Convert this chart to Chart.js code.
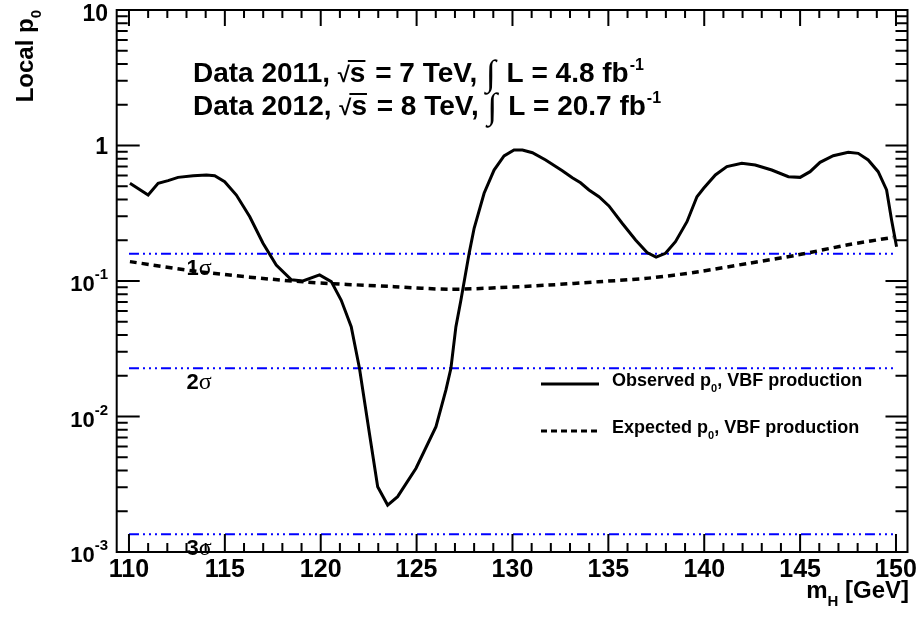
<!DOCTYPE html>
<html><head><meta charset="utf-8">
<script src="https://cdn.jsdelivr.net/npm/chart.js@4.4.0/dist/chart.umd.min.js"></script>
<style>html,body{margin:0;padding:0;background:#fff;}#wrap{width:920px;height:617px;}</style>
</head><body><div id="wrap"><canvas id="c" width="920" height="617"></canvas></div>
<script>
// ---- data ----
const obsMass = [110.05,111.0,111.52,112.04,112.56,113.35,114.04,114.47,114.99,115.6,116.3,116.99,117.68,118.47,119.07,119.94,120.55,121.07,121.59,122.02,122.54,122.97,123.49,124.01,124.97,126.01,126.53,126.79,127.05,127.31,127.74,128.0,128.52,129.04,129.56,130.08,130.52,131.04,131.73,132.6,133.12,133.55,133.99,134.51,135.03,135.72,136.42,137.02,137.49,137.98,138.5,139.1,139.62,139.97,140.58,141.18,141.96,142.66,143.52,144.39,145.0,145.52,146.04,146.73,147.51,148.03,148.55,149.07,149.51,149.77,150.03];
const obsP0 = [0.526,0.431,0.526,0.55,0.582,0.598,0.606,0.598,0.541,0.431,0.298,0.19,0.131,0.102,0.1,0.111,0.099,0.072,0.046,0.0227,0.0075,0.00303,0.00222,0.00256,0.00415,0.0084,0.0157,0.0227,0.046,0.072,0.16,0.245,0.444,0.659,0.837,0.927,0.927,0.885,0.782,0.652,0.578,0.531,0.47,0.419,0.358,0.267,0.201,0.162,0.15,0.16,0.195,0.274,0.419,0.483,0.606,0.698,0.739,0.718,0.659,0.589,0.582,0.641,0.751,0.841,0.891,0.875,0.782,0.641,0.47,0.282,0.179];
const expMass = [110.05,113.69,118.9,123.84,126.7,129.3,131.9,134.5,137.1,139.7,142.3,144.9,147.5,149.85];
const expP0 = [0.139,0.117,0.099,0.0908,0.0869,0.0893,0.0934,0.0988,0.105,0.117,0.135,0.156,0.185,0.21];
const sigmaNames = ['1','2','3'];
const sigmaP0 = [0.1587,0.02275,0.00135];
const sigmaRange = [110,150];
const sigmaLabelMass = 113;
const xTicks = [110,115,120,125,130,135,140,145,150];
const yTickExp = [-3,-2,-1,0,1];
const xRange = [109.36,150.6];
const yRange = [1e-3,10];
const legendNames = ['Observed p','Expected p'];
const legendTail = ', VBF production';
const titleLines = [['Data 2011, ','7 TeV, ','4.8 fb'],['Data 2012, ','8 TeV, ','20.7 fb']];

const SANS = '"Liberation Sans", Arial, sans-serif';
const SERIF = '"Liberation Serif", "Times New Roman", serif';

function drawRich(ctx, x, y, parts, align){
  let w = 0;
  parts.forEach(p=>{ctx.font=p.f; p.w = ctx.measureText(p.t).width + (p.sp||0); w += p.w;});
  let cx = align==='right' ? x - w : x;
  parts.forEach(p=>{
    ctx.font = p.f;
    ctx.fillText(p.t, cx, y + (p.dy||0));
    if (p.over){
      ctx.save(); ctx.lineWidth = 2; ctx.beginPath();
      ctx.moveTo(cx - 2, y - p.over); ctx.lineTo(cx + p.w - (p.sp||0), y - p.over); ctx.stroke(); ctx.restore();
    }
    cx += p.w;
  });
  return w;
}

const decor = {
  id:'decor',
  afterDraw(chart){
    const ctx = chart.ctx, xs = chart.scales.x, ys = chart.scales.y, ca = chart.chartArea;
    ctx.save();
    ctx.strokeStyle = '#000'; ctx.fillStyle = '#000'; ctx.lineWidth = 2;
    // frame
    ctx.strokeRect(ca.left, ca.top, ca.right - ca.left, ca.bottom - ca.top);
    ctx.beginPath();
    for (let m = 110; m <= 150; m++){
      const px = xs.getPixelForValue(m), major = (m % 5 === 0);
      ctx.moveTo(px, ca.bottom); ctx.lineTo(px, ca.bottom - (major ? 18 : 9));
      ctx.moveTo(px, ca.top); ctx.lineTo(px, ca.top + (major ? 16 : 8));
    }
    for (let k = -3; k <= 0; k++){
      for (let j = 1; j <= 9; j++){
        const py = ys.getPixelForValue(j * Math.pow(10, k)), major = (j === 1);
        ctx.moveTo(ca.left, py); ctx.lineTo(ca.left + (major ? 23 : 11), py);
        ctx.moveTo(ca.right, py); ctx.lineTo(ca.right - (major ? 22 : 12), py);
      }
    }
    ctx.stroke();
    // y tick labels
    ctx.textBaseline = 'middle';
    yTickExp.forEach(e=>{
      const py = ys.getPixelForValue(Math.pow(10, e));
      if (e === 0 || e === 1){
        ctx.textAlign = 'right';
        ctx.font = 'bold 23px ' + SANS;
        ctx.fillText(e === 0 ? '1' : '10', 108, e===1 ? 15 : py + 2);
      } else {
        ctx.textAlign = 'left';
        drawRich(ctx, 108, py + 4, [
          {t:'10', f:'bold 22px ' + SANS},
          {t:String(e), f:'bold 15px ' + SANS, dy:-10}
        ], 'right');
      }
    });
    // x axis title
    ctx.textAlign = 'left'; ctx.textBaseline = 'alphabetic';
    drawRich(ctx, 909, 598, [
      {t:'m', f:'bold 24px ' + SANS},
      {t:'H', f:'bold 15px ' + SANS, dy:8},
      {t:' [GeV]', f:'bold 24px ' + SANS}
    ], 'right');
    // y axis title
    ctx.save();
    ctx.translate(33, 10); ctx.rotate(-Math.PI/2);
    drawRich(ctx, 0, 0, [
      {t:'Local p', f:'bold 24px ' + SANS},
      {t:'0', f:'bold 15px ' + SANS, dy:8}
    ], 'right');
    ctx.restore();
    // sigma labels
    sigmaP0.forEach((v,i)=>{
      const px = xs.getPixelForValue(sigmaLabelMass), py = ys.getPixelForValue(v) + 21;
      drawRich(ctx, px, py, [
        {t:sigmaNames[i], f:'bold 22px ' + SANS},
        {t:'σ', f:'24px ' + SERIF}
      ], 'left');
    });
    // title lines
    const tb = [82, 115];
    titleLines.forEach((ln, i)=>{
      const F = 'bold 28px ' + SANS;
      drawRich(ctx, 193, tb[i], [
        {t:ln[0], f:F},
        {t:'\u221A', f:'bold 22px ' + SANS},
        {t:'s', f:F, over:21, sp:2},
        {t:' = ' + ln[1], f:F, sp:1},
        {t:'\u222B', f:'36px ' + SERIF, dy:3, sp:3},
        {t:' L = ' + ln[2], f:F, sp:1},
        {t:'-1', f:'bold 16px ' + SANS, dy:-12}
      ], 'left');
    });
    // legend
    const legY = [384, 431], legTxtY = [386, 433];
    ctx.lineWidth = 3;
    legY.forEach((y,i)=>{
      ctx.save();
      ctx.setLineDash(i === 0 ? [] : [6,4]);
      ctx.beginPath(); ctx.moveTo(541, y); ctx.lineTo(599, y); ctx.stroke();
      ctx.restore();
      drawRich(ctx, 612, legTxtY[i], [
        {t:legendNames[i], f:'bold 18px ' + SANS},
        {t:'0', f:'bold 11px ' + SANS, dy:6},
        {t:legendTail, f:'bold 18px ' + SANS}
      ], 'left');
    });
    ctx.restore();
  }
};

const datasets = [
  {data: obsMass.map((m,i)=>({x:m, y:obsP0[i]})), borderColor:'#000', borderWidth:3, pointRadius:0, tension:0, fill:false},
  {data: expMass.map((m,i)=>({x:m, y:expP0[i]})), borderColor:'#000', borderWidth:3.5, borderDash:[7,5], pointRadius:0, tension:0.3, fill:false}
];
sigmaP0.forEach(v=>{
  datasets.push({data: sigmaRange.map(m=>({x:m, y:v})), borderColor:'#0000ff', borderWidth:2, borderDash:[10,4,2,4,2,4,2,4], pointRadius:0, fill:false});
});

new Chart(document.getElementById('c'), {
  type:'line',
  data:{datasets},
  options:{
    responsive:false, animation:false, devicePixelRatio:1,
    layout:{padding:{left:0, right:11, top:10, bottom:0}},
    plugins:{legend:{display:false}, tooltip:{enabled:false}},
    scales:{
      x:{type:'linear', min:xRange[0], max:xRange[1],
         grid:{display:false, drawTicks:false}, border:{display:false},
         afterBuildTicks: s=>{ s.ticks = xTicks.map(v=>({value:v})); },
         afterFit: s=>{ s.height = 65; },
         ticks:{autoSkip:false, maxRotation:0, padding:3, color:'#000',
                font:{family:'"Liberation Sans", Arial, sans-serif', weight:'bold', size:25},
                callback: v=>String(v)}},
      y:{type:'logarithmic', min:yRange[0], max:yRange[1],
         grid:{display:false}, border:{display:false},
         ticks:{display:false}, afterFit: s=>{ s.width = 116.7; }}
    }
  },
  plugins:[decor]
});
</script></body></html>
